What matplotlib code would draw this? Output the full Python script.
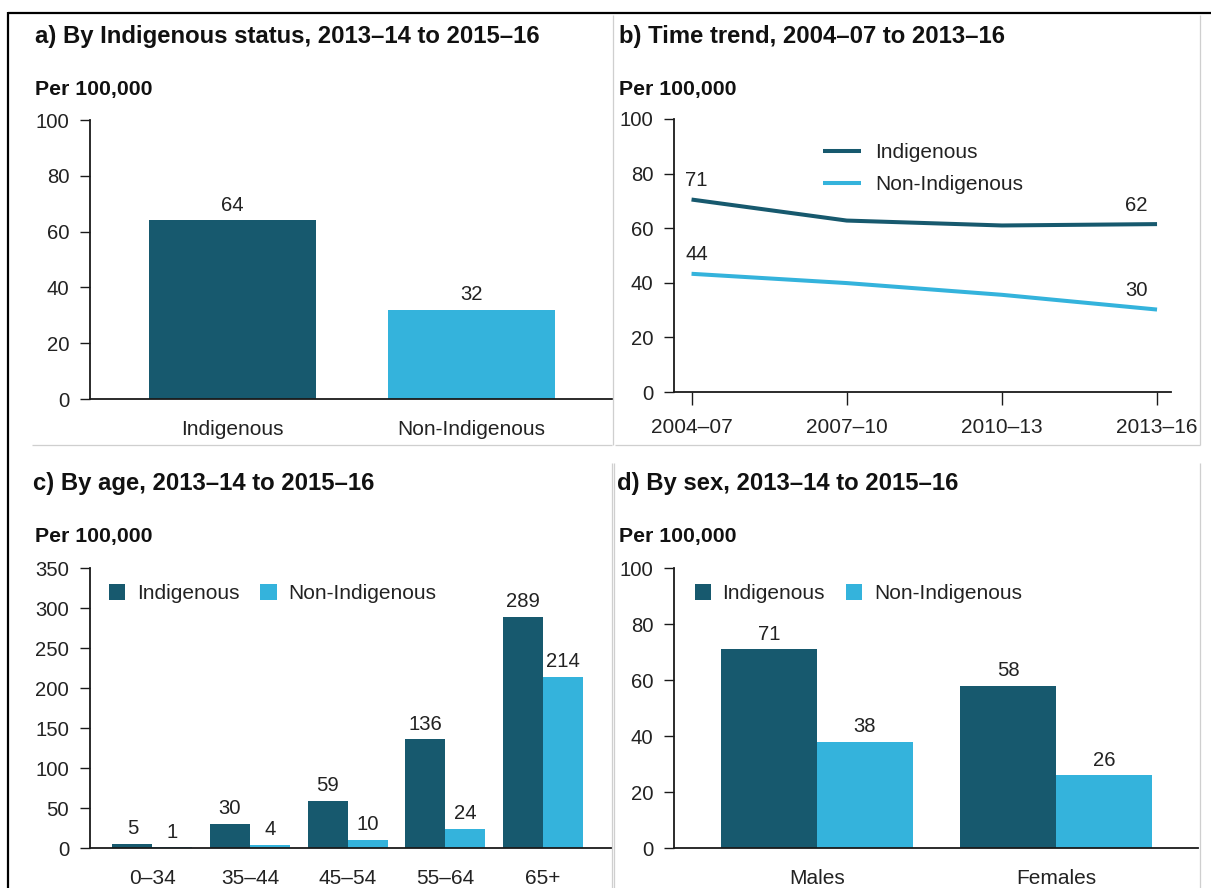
import matplotlib
matplotlib.use('Agg')
import matplotlib.pyplot as plt
from matplotlib.patches import Patch
from matplotlib.lines import Line2D

plt.rcParams['font.family'] = ['Liberation Sans', 'DejaVu Sans']

W, H = 1211, 888
DARK = '#17596e'
LIGHT = '#34b3dc'
AXC = '#1a1a1a'
TXT = '#222222'
GRID = '#cfcfcf'

# ---------------- data ----------------
status_cats = ['Indigenous', 'Non-Indigenous']
status_vals = [64, 32]

trend_periods = ['2004–07', '2007–10', '2010–13', '2013–16']
trend_indig = [70.5, 62.8, 61.0, 61.5]
trend_nonindig = [43.3, 39.9, 35.6, 30.2]
trend_indig_labels = ['71', '', '', '62']
trend_nonindig_labels = ['44', '', '', '30']

age_groups = ['0–34', '35–44', '45–54', '55–64', '65+']
age_indig = [5, 30, 59, 136, 289]
age_nonindig = [1, 4, 10, 24, 214]

sex_cats = ['Males', 'Females']
sex_indig = [71, 58]
sex_nonindig = [38, 26]

series_names = ['Indigenous', 'Non-Indigenous']

TICK_FS = 14.6
LAB_FS = 15.0
VAL_FS = 14.6
TITLE_FS = 17.2
PER_FS = 15.3


def px_rect(l, t, r, b):
    return [l / W, 1 - b / H, (r - l) / W, (b - t) / H]


def fy(y):
    return 1 - y / H


fig = plt.figure(figsize=(W / 100, H / 100), dpi=100)
fig.patch.set_facecolor('white')


def style(ax, xtick_len=0, xpad=15):
    for s in ['top', 'right']:
        ax.spines[s].set_visible(False)
    for s in ['left', 'bottom']:
        ax.spines[s].set_color(AXC)
        ax.spines[s].set_linewidth(1.3)
    ax.tick_params(axis='y', direction='out', length=7, width=1.0, color=AXC,
                   labelsize=TICK_FS, pad=8, labelcolor=TXT)
    ax.tick_params(axis='x', direction='out', length=xtick_len, width=1.0, color=AXC,
                   labelsize=LAB_FS, pad=xpad, labelcolor=TXT)


def label_bars(ax, xs, vals):
    for x, v in zip(xs, vals):
        ax.annotate(str(v), (x, v), xytext=(0, 4), textcoords='offset points',
                    ha='center', va='bottom', fontsize=VAL_FS, color=TXT)


# ---------------- panel a ----------------
axa = fig.add_axes(px_rect(90, 120, 612, 399))
xa = list(range(len(status_cats)))
axa.bar(xa, status_vals, width=0.70, color=[DARK, LIGHT])
axa.set_xlim(-0.598, 1.591)
axa.set_ylim(0, 100)
axa.set_yticks([0, 20, 40, 60, 80, 100])
axa.set_xticks(xa)
axa.set_xticklabels(status_cats)
style(axa)
label_bars(axa, xa, status_vals)

# ---------------- panel b ----------------
axb = fig.add_axes(px_rect(674, 119, 1171, 392))
xb = list(range(len(trend_periods)))
axb.plot(xb, trend_indig, color=DARK, lw=2.9, label=series_names[0], solid_capstyle='butt')
axb.plot(xb, trend_nonindig, color=LIGHT, lw=2.9, label=series_names[1], solid_capstyle='butt')
axb.set_xlim(-0.113, 3.09)
axb.set_ylim(0, 100)
axb.set_yticks([0, 20, 40, 60, 80, 100])
axb.set_xticks(xb)
axb.set_xticklabels(trend_periods)
style(axb, xtick_len=9, xpad=10)
for series, labels in [(trend_indig, trend_indig_labels), (trend_nonindig, trend_nonindig_labels)]:
    for i, (v, lab) in enumerate(zip(series, labels)):
        if not lab:
            continue
        off = (3.6, 14) if i == 0 else (-15, 13.5)
        axb.annotate(lab, (xb[i], v), xytext=off, textcoords='offset points',
                     ha='center', va='center', fontsize=VAL_FS, color=TXT)
axb.legend(loc='upper left', bbox_to_anchor=(823 / W, fy(143)), bbox_transform=fig.transFigure,
           frameon=False, fontsize=LAB_FS, handlelength=1.83, handletextpad=0.67,
           labelspacing=0.62, borderpad=0, borderaxespad=0, labelcolor=TXT)

# ---------------- panel c ----------------
axc = fig.add_axes(px_rect(90, 568, 612, 848))
xc = list(range(len(age_groups)))
bw = 0.41
axc.bar([x - bw / 2 for x in xc], age_indig, width=bw, color=DARK, label=series_names[0])
axc.bar([x + bw / 2 for x in xc], age_nonindig, width=bw, color=LIGHT, label=series_names[1])
axc.set_xlim(-0.64, 4.71)
axc.set_ylim(0, 350)
axc.set_yticks(list(range(0, 351, 50)))
axc.set_xticks(xc)
axc.set_xticklabels(age_groups)
style(axc)
label_bars(axc, [x - bw / 2 for x in xc], age_indig)
label_bars(axc, [x + bw / 2 for x in xc], age_nonindig)

handles = [Patch(facecolor=DARK), Patch(facecolor=LIGHT)]
axc.legend(handles, series_names, loc='upper left', ncol=2,
           bbox_to_anchor=(109 / W, fy(584)), bbox_transform=fig.transFigure,
           frameon=False, fontsize=LAB_FS, handlelength=0.77, handleheight=0.77,
           handletextpad=0.58, columnspacing=1.0, borderpad=0, borderaxespad=0,
           labelcolor=TXT)

# ---------------- panel d ----------------
axd = fig.add_axes(px_rect(674, 568, 1198, 848))
xd = list(range(len(sex_cats)))
bw2 = 0.40
axd.bar([x - bw2 / 2 for x in xd], sex_indig, width=bw2, color=DARK)
axd.bar([x + bw2 / 2 for x in xd], sex_nonindig, width=bw2, color=LIGHT)
axd.set_xlim(-0.598, 1.594)
axd.set_ylim(0, 100)
axd.set_yticks([0, 20, 40, 60, 80, 100])
axd.set_xticks(xd)
axd.set_xticklabels(sex_cats)
style(axd)
label_bars(axd, [x - bw2 / 2 for x in xd], sex_indig)
label_bars(axd, [x + bw2 / 2 for x in xd], sex_nonindig)
axd.legend(handles, series_names, loc='upper left', ncol=2,
           bbox_to_anchor=(694.5 / W, fy(584)), bbox_transform=fig.transFigure,
           frameon=False, fontsize=LAB_FS, handlelength=0.77, handleheight=0.77,
           handletextpad=0.58, columnspacing=1.0, borderpad=0, borderaxespad=0,
           labelcolor=TXT)

# ---------------- titles ----------------
titles = [
    (35, 43, 'a) By Indigenous status, 2013–14 to 2015–16'),
    (619, 43, 'b) Time trend, 2004–07 to 2013–16'),
    (33, 490, 'c) By age, 2013–14 to 2015–16'),
    (617, 490, 'd) By sex, 2013–14 to 2015–16'),
]
for x, y, s in titles:
    fig.text(x / W, fy(y), s, fontsize=TITLE_FS, fontweight='bold', color='#111111',
             ha='left', va='baseline')
for x, y in [(35, 95), (619, 95), (35, 542), (619, 542)]:
    fig.text(x / W, fy(y), 'Per 100,000', fontsize=PER_FS, fontweight='bold', color='#111111',
             ha='left', va='baseline')

# ---------------- frame lines ----------------
def fline(x0, y0, x1, y1, color, lw):
    fig.add_artist(Line2D([x0 / W, x1 / W], [fy(y0), fy(y1)], transform=fig.transFigure,
                          color=color, lw=lw, solid_capstyle='butt'))

fline(8, 13, W, 13, 'black', 1.6)
fline(8, 12, 8, H, 'black', 1.6)
fline(32, 445, 612, 445, GRID, 0.9)
fline(615, 445, 1200, 445, GRID, 0.9)
fline(613, 15, 613, 445, GRID, 0.9)
fline(1200, 15, 1200, 445, GRID, 0.9)
fline(612, 463, 612, H, GRID, 0.9)
fline(614, 463, 614, H, GRID, 0.9)
fline(1200, 463, 1200, H, GRID, 0.9)

fig.savefig('out.png', dpi=100, facecolor='white')
